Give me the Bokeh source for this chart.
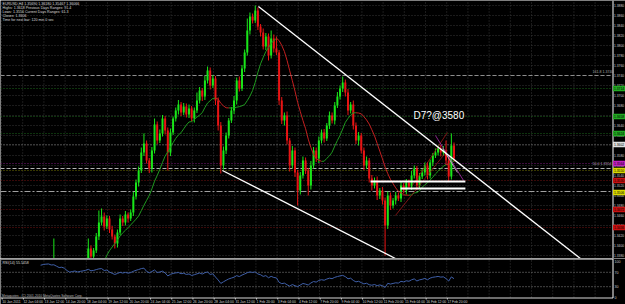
import math
from bokeh.plotting import figure
from bokeh.layouts import column
from bokeh.models import Range1d, ColumnDataSource
from bokeh.core.properties import value
from bokeh.embed import file_html
from bokeh.resources import INLINE

# ------------------------------------------------------------------ data
header_lines = [
    "EURUSD,H4  1.35690 1.36180 1.35467 1.36066",
    "Highs: 1.3618   Previous Days Ranges: 91.4",
    "Lows: 1.3556   Current Days Ranges: 61.3",
    "Closes: 1.3606",
    "Time for next bar: 120 min 0 sec",
]

first_open = 1.2910
closes = [
    1.2920, 1.2935, 1.2960, 1.2948, 1.2975, 1.2990,
    1.2982, 1.3010, 1.3035, 1.3020, 1.3048, 1.3060,
    1.3075, 1.3120, 1.3190, 1.3260, 1.3310, 1.3342,
    1.3330, 1.3352, 1.3336, 1.3320, 1.3340, 1.3328,
    1.3300, 1.3280, 1.3302, 1.3318, 1.3306, 1.3326,
    1.3340, 1.3358,
    1.3394, 1.3378, 1.3390, 1.3418, 1.3446, 1.3458, 1.3438, 1.3454, 1.3432, 1.3418,
    1.3404, 1.3426, 1.3454, 1.3446, 1.3462, 1.3454, 1.3466, 1.3498, 1.3526, 1.3550,
    1.3586, 1.3604, 1.3570, 1.3554, 1.3590, 1.3642, 1.3610, 1.3624, 1.3654, 1.3630,
    1.3586, 1.3626, 1.3654, 1.3670, 1.3682, 1.3666, 1.3678, 1.3662, 1.3674, 1.3654,
    1.3670, 1.3690, 1.3710, 1.3698, 1.3730, 1.3750, 1.3720, 1.3734, 1.3690, 1.3640,
    1.3560, 1.3590, 1.3620, 1.3650, 1.3670, 1.3690, 1.3730, 1.3714, 1.3754, 1.3786,
    1.3830, 1.3858, 1.3850, 1.3870, 1.3838, 1.3826, 1.3798, 1.3818, 1.3780, 1.3814,
    1.3794, 1.3786, 1.3690, 1.3650, 1.3660, 1.3610, 1.3560, 1.3590, 1.3546, 1.3510,
    1.3540, 1.3570, 1.3550, 1.3520, 1.3560, 1.3590, 1.3574, 1.3610, 1.3626, 1.3614,
    1.3640, 1.3660, 1.3650, 1.3680, 1.3698, 1.3714, 1.3726, 1.3706, 1.3670, 1.3682,
    1.3640, 1.3610, 1.3620, 1.3590, 1.3560, 1.3570, 1.3534, 1.3520, 1.3530, 1.3500,
    1.3510, 1.3490, 1.3440, 1.3500, 1.3480, 1.3490, 1.3500, 1.3494, 1.3520, 1.3510,
    1.3526, 1.3518, 1.3540, 1.3554, 1.3520, 1.3538, 1.3546, 1.3560, 1.3540, 1.3566,
    1.3580, 1.3586, 1.3594, 1.3586, 1.3590, 1.3570, 1.3538, 1.3600, 1.3574,
]
upper_wick_pips = [
    6, 4, 8, 5, 7, 3, 6, 9, 4, 5,
    7, 5, 6, 8, 10, 12, 14, 7, 4, 62,
    5, 6, 8, 4, 6, 5, 7, 3, 6, 5,
    8, 4, 20, 6, 5, 7, 24, 16, 8, 6,
    5, 7, 4, 6, 8, 5, 7, 4, 6, 9,
    6, 8, 10, 20, 6, 5, 7, 12, 6, 8,
    7, 5, 6, 8, 4, 6, 9, 5, 7, 6,
    8, 5, 6, 16, 7, 5, 9, 8, 6, 7,
    5, 6, 7, 8, 6, 5, 7, 9, 6, 8,
    7, 6, 24, 8, 6, 10, 6, 5, 8, 7,
    6, 16, 8, 24, 5, 7, 6, 8, 5, 9,
    6, 5, 7, 8, 6, 5, 9, 7, 6, 8,
    6, 7, 5, 8, 6, 7, 9, 6, 12, 6,
    7, 5, 8, 6, 7, 5, 6, 8, 5, 7,
    6, 8, 5, 7, 6, 8, 6, 5, 7, 6,
    8, 5, 7, 6, 9, 6, 5, 7, 8, 6,
    7, 6, 5, 8, 6, 7, 9, 20, 8, 24,
    6,
]
lower_wick_pips = [
    5, 7, 4, 6, 8, 5, 6, 4, 7, 5,
    6, 8, 5, 7, 8, 6, 9, 5, 7, 6,
    8, 5, 6, 7, 4, 6, 5, 8, 6, 7,
    5, 6, 10, 8, 6, 5, 7, 6, 8, 5,
    7, 6, 10, 8, 5, 7, 6, 8, 5, 7,
    6, 8, 5, 7, 6, 9, 8, 6, 7, 5,
    6, 8, 36, 7, 5, 6, 8, 7, 5, 6,
    7, 6, 8, 5, 6, 9, 7, 6, 8, 5,
    9, 10, 16, 8, 7, 6, 5, 7, 8, 6,
    5, 7, 6, 8, 6, 5, 7, 8, 6, 7,
    10, 6, 8, 5, 9, 7, 10, 8, 12, 6,
    9, 30, 8, 6, 7, 20, 8, 6, 7, 9,
    6, 8, 5, 7, 6, 8, 5, 6, 7, 8,
    9, 6, 8, 7, 10, 6, 9, 7, 8, 10,
    6, 9, 7, 8, 60, 7, 9, 6, 8, 5,
    7, 6, 8, 5, 7, 6, 9, 7, 5, 6,
    8, 6, 7, 5, 6, 8, 7, 9, 10, 6,
    7,
]

time_labels = [
    "10 Jan 2011", "12 Jan 04:00", "13 Jan 12:00", "14 Jan 20:00", "18 Jan 04:00",
    "19 Jan 12:00", "20 Jan 20:00", "24 Jan 04:00", "25 Jan 12:00", "26 Jan 20:00",
    "28 Jan 04:00", "31 Jan 12:00", "1 Feb 20:00", "3 Feb 04:00", "4 Feb 12:00",
    "7 Feb 20:00", "9 Feb 04:00", "10 Feb 12:00", "11 Feb 20:00", "15 Feb 04:00",
    "16 Feb 12:00", "17 Feb 20:00",
]
bars_per_label = 8

price_ticks = [
    1.3880, 1.3860, 1.3840, 1.3820, 1.3800, 1.3780, 1.3760, 1.3740, 1.3720,
    1.3700, 1.3680, 1.3660, 1.3640, 1.3620, 1.3600, 1.3580, 1.3560, 1.3540,
    1.3520, 1.3500, 1.3480, 1.3460, 1.3440, 1.3420, 1.3400, 1.3380,
]

level_prices = [1.3740, 1.3714, 1.3658, 1.3624, 1.3602, 1.3564, 1.3554, 1.3550,
                1.3530, 1.3508, 1.3472, 1.3436]
level_colors = ["#8c8c8c", "#1a661a", "#1a661a", "#1a661a", "#707070", "#7a187a",
                "#b4b4b4", "#6e6e00", "#701010", "#a0a0a0", "#701010", "#701010"]
level_dashes = ["4 2", "1 2", "1 2", "1 2", "1 2", "1 2", "4 2", "1 2", "1 2",
                "6 2 2 2", "1 2", "1 2"]

box_prices = [1.3714, 1.3658, 1.3624, 1.3602, 1.3564, 1.3550, 1.3530, 1.3506,
              1.3472, 1.3436]
box_colors = ["#22aa22", "#22aa22", "#22aa22", "#e0e0e0", "#c020c0", "#d8d800",
              "#c81010", "#d8d800", "#c81010", "#c81010"]

fib_texts = ["161.8  1.3740", "50.0  1.3554"]
fib_prices = [1.3744, 1.3560]

trend_bar0 = [96.2, 82.6]
trend_price0 = [1.3878, 1.3550]
trend_bar1 = [217.7, 147.9]
trend_price1 = [1.3374, 1.3374]

zone_price = [1.3528, 1.3514]
zone_bar0 = [138.5, 149.8]
zone_bar1 = [174.3, 174.3]

aux_bar0 = [147.9, 154.3, 163.0, 165.7]
aux_price0 = [1.3460, 1.3520, 1.3620, 1.3594]
aux_bar1 = [167.5, 167.5, 173.6, 171.3]
aux_price1 = [1.3590, 1.3626, 1.3530, 1.3546]
aux_colors = ["#9a1818", "#9a1818", "#b030b0", "#d0d0d0"]

pivot_text = "D7?@3580"
pivot_bar = 154.7
pivot_price = 1.3661

ma_period = 14
rsi_period = 14
rsi_levels = [70, 30]
rsi_ticks = [100, 70, 30, 0]
rsi_caption = "RSI(14) 55.5458"
copyright_text = "Metaquotes - (C) 2001-2010 MetaQuotes Software Corp."

# ------------------------------------------------------------------ geometry helpers
BAR_PX = 2.65
X0 = 3.0
P_TOP = 1.3890
P_PER_PX = 0.0002
W, H1, H2 = 625, 258, 46
AXIS_PX = 612


def bx(px):
    return (px - X0) / BAR_PX


def py(ypx):
    return P_TOP - P_PER_PX * ypx


def ry(abs_y):
    return 108.333 - (abs_y - 258) / 0.36


FONT = value("Liberation Sans")
GREEN = "#19e619"
RED = "#e81414"


def make_fig(h, yr):
    p = figure(width=W, height=h, x_range=Range1d(bx(0), bx(W)), y_range=yr,
               output_backend="svg", toolbar_location=None,
               x_axis_type=None, y_axis_type=None,
               background_fill_color="black", border_fill_color="black",
               outline_line_color=None, min_border=0)
    return p


# ------------------------------------------------------------------ derived series
n = min(len(closes), len(upper_wick_pips), len(lower_wick_pips))
closes = closes[:n]
opens = [first_open] + closes[:-1]
highs = [max(o, c) + u / 10000 for o, c, u in zip(opens, closes, upper_wick_pips)]
lows = [min(o, c) - l / 10000 for o, c, l in zip(opens, closes, lower_wick_pips)]

up = dict(x=[], h=[], l=[], t=[], b=[])
dn = dict(x=[], h=[], l=[], t=[], b=[])
for i in range(n):
    d = up if closes[i] >= opens[i] else dn
    t = max(opens[i], closes[i])
    b = min(opens[i], closes[i])
    if t - b < 0.0001:
        b = t - 0.0001
    d["x"].append(i)
    d["h"].append(highs[i])
    d["l"].append(lows[i])
    d["t"].append(t)
    d["b"].append(b)

sma = [None] * n
for i in range(ma_period - 1, n):
    sma[i] = sum(closes[i - ma_period + 1:i + 1]) / ma_period


def wilder_rsi(vals, period):
    out = [None] * len(vals)
    gains, losses = [0.0], [0.0]
    for i in range(1, len(vals)):
        dlt = vals[i] - vals[i - 1]
        gains.append(max(dlt, 0.0))
        losses.append(max(-dlt, 0.0))
    ag = sum(gains[1:period + 1]) / period
    al = sum(losses[1:period + 1]) / period

    def v(a, b):
        return 100.0 if b == 0 else 100.0 - 100.0 / (1.0 + a / b)
    out[period] = v(ag, al)
    for i in range(period + 1, len(vals)):
        ag = (ag * (period - 1) + gains[i]) / period
        al = (al * (period - 1) + losses[i]) / period
        out[i] = v(ag, al)
    return out


rsi = wilder_rsi(closes, rsi_period)

# ------------------------------------------------------------------ main price pane
p1 = make_fig(H1, Range1d(py(H1), py(0)))

grid_color = "#363636"
last_bar = bx(AXIS_PX)
vgrid_x = []
k = 0
while k * bars_per_label - 0.75 < last_bar:
    vgrid_x.append(k * bars_per_label - 0.75)
    k += 1
p1.segment(x0=vgrid_x, y0=[py(H1)] * len(vgrid_x), x1=vgrid_x, y1=[py(0)] * len(vgrid_x),
           line_color=grid_color, line_dash="1 2", line_width=1)
p1.segment(x0=[bx(0)] * len(price_ticks), y0=price_ticks, x1=[last_bar] * len(price_ticks),
           y1=price_ticks, line_color=grid_color, line_dash="1 2", line_width=1)

for lp, lc, ld in zip(level_prices, level_colors, level_dashes):
    p1.segment(x0=[bx(0)], y0=[lp], x1=[last_bar], y1=[lp], line_color=lc,
               line_dash=ld, line_width=1)

p1.segment(x0="x", y0="h", x1="x", y1="l", source=ColumnDataSource(up),
           line_color=GREEN, line_width=1)
p1.vbar(x="x", width=0.75, top="t", bottom="b", source=ColumnDataSource(up),
        fill_color=GREEN, line_color=None)
p1.segment(x0="x", y0="h", x1="x", y1="l", source=ColumnDataSource(dn),
           line_color=RED, line_width=1)
p1.vbar(x="x", width=0.75, top="t", bottom="b", source=ColumnDataSource(dn),
        fill_color=RED, line_color=None)

ma_up = dict(x0=[], y0=[], x1=[], y1=[])
ma_dn = dict(x0=[], y0=[], x1=[], y1=[])
for i in range(ma_period, n):
    d = ma_up if sma[i] >= sma[i - 1] else ma_dn
    d["x0"].append(i - 1)
    d["y0"].append(sma[i - 1])
    d["x1"].append(i)
    d["y1"].append(sma[i])
p1.segment(x0="x0", y0="y0", x1="x1", y1="y1", source=ColumnDataSource(ma_up),
           line_color="#1f9a1f", line_width=1)
p1.segment(x0="x0", y0="y0", x1="x1", y1="y1", source=ColumnDataSource(ma_dn),
           line_color="#c42020", line_width=1)

p1.segment(x0=aux_bar0, y0=aux_price0, x1=aux_bar1, y1=aux_price1,
           line_color=aux_colors, line_width=0.8)
p1.segment(x0=trend_bar0, y0=trend_price0, x1=trend_bar1, y1=trend_price1,
           line_color="white", line_width=1.3)
p1.segment(x0=zone_bar0, y0=zone_price, x1=zone_bar1, y1=zone_price,
           line_color="white", line_width=2)

# right price scale
p1.segment(x0=[bx(AXIS_PX + 0.5)], y0=[py(H1)], x1=[bx(AXIS_PX + 0.5)], y1=[py(0)],
           line_color="white", line_width=1)
p1.text(x=[bx(613.5)] * len(price_ticks), y=price_ticks,
        text=[f"{t:.4f}" for t in price_ticks], text_font=FONT, text_font_size="3.3px",
        text_color="#c8c8c8", text_align="left", text_baseline="middle")
p1.rect(x=[bx(619)] * len(box_prices), y=box_prices, width=13, height=5.5,
        width_units="screen", height_units="screen", fill_color=box_colors, line_color=None)
p1.text(x=[bx(613.5)] * len(box_prices), y=box_prices,
        text=[f"{b:.4f}" for b in box_prices], text_font=FONT, text_font_size="3.3px",
        text_color="black", text_align="left", text_baseline="middle")

p1.text(x=[bx(592)] * len(fib_texts), y=fib_prices, text=fib_texts, text_font=FONT,
        text_font_size="3.6px", text_color="#a8a8a8", text_align="left",
        text_baseline="bottom")

p1.text(x=[bx(2)] * len(header_lines), y=[py(3 + 4 * j) for j in range(len(header_lines))],
        text=header_lines, text_font=FONT, text_font_size="3.6px", text_color="#dcdcdc",
        text_align="left", text_baseline="middle")

p1.text(x=[pivot_bar], y=[pivot_price], text=[pivot_text], text_font=FONT,
        text_font_size="10px", text_color="white", text_align="left",
        text_baseline="middle")

# ------------------------------------------------------------------ RSI pane
p2 = make_fig(H2, Range1d(ry(258 + H2), ry(258)))

p2.segment(x0=vgrid_x, y0=[0] * len(vgrid_x), x1=vgrid_x, y1=[ry(259)] * len(vgrid_x),
           line_color=grid_color, line_dash="1 2", line_width=1)
p2.segment(x0=[bx(0)] * len(rsi_levels), y0=rsi_levels, x1=[last_bar] * len(rsi_levels),
           y1=rsi_levels, line_color="#8a8a8a", line_dash="1 2", line_width=1)

rx = [i for i in range(n) if rsi[i] is not None]
p2.line(x=rx, y=[rsi[i] for i in rx], line_color="#3f5fa8", line_width=1)

p2.segment(x0=[bx(0)], y0=[ry(258.5)], x1=[bx(AXIS_PX + 0.5)], y1=[ry(258.5)],
           line_color="white", line_width=1)
p2.segment(x0=[bx(0)], y0=[ry(297.5)], x1=[bx(AXIS_PX + 0.5)], y1=[ry(297.5)],
           line_color="#d8d8d8", line_width=1)
p2.segment(x0=[bx(AXIS_PX + 0.5)], y0=[ry(258.5)], x1=[bx(AXIS_PX + 0.5)], y1=[ry(297.5)],
           line_color="white", line_width=1)

p2.text(x=[bx(614)] * len(rsi_ticks), y=rsi_ticks, text=[str(t) for t in rsi_ticks],
        text_font=FONT, text_font_size="3.6px", text_color="#c8c8c8", text_align="left",
        text_baseline="middle")
p2.text(x=[bx(2)], y=[ry(262.5)], text=[rsi_caption], text_font=FONT,
        text_font_size="3.6px", text_color="#dcdcdc", text_align="left",
        text_baseline="middle")
p2.text(x=[bx(1.5)], y=[ry(295)], text=[copyright_text], text_font=FONT,
        text_font_size="3.2px", text_color="#bcbcbc", text_align="left",
        text_baseline="middle")

lab_x = [k * bars_per_label - 0.5 for k in range(len(time_labels))]
p2.text(x=lab_x, y=[ry(301.5)] * len(time_labels), text=time_labels, text_font=FONT,
        text_font_size="3.4px", text_color="#d0d0d0", text_align="left",
        text_baseline="middle")
p2.segment(x0=lab_x, y0=[ry(297.5)] * len(lab_x), x1=lab_x, y1=[ry(299)] * len(lab_x),
           line_color="#d0d0d0", line_width=1)

layout = column(p1, p2, spacing=0)
open("out.html", "w").write(file_html(layout, INLINE))
